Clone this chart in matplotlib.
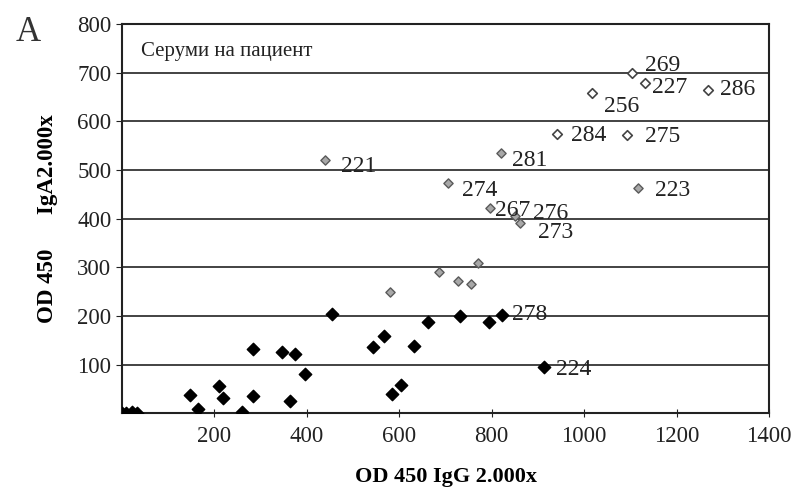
import numpy as np
import matplotlib
matplotlib.use('Agg')
import matplotlib.pyplot as plt

plt.rcParams['font.family'] = ['Liberation Serif', 'DejaVu Serif']

# black points (no labels)
blk_x = [0, 8, 22, 32, 147, 164, 210, 218, 260, 284, 284, 346, 374, 364, 396, 454,
         543, 567, 584, 604, 632, 662, 732, 794]
blk_y = [0, 0, 2, 0, 37, 8, 56, 31, 2, 132, 35, 125, 121, 25, 80, 204,
         136, 158, 39, 58, 138, 187, 200, 187]
# labelled black points
blk_lab = ['278', '224']
blk_lx = [822, 913]
blk_ly = [202, 95]

# grey filled points
gry_x = [580, 686, 727, 755, 771]
gry_y = [249, 290, 272, 265, 309]
gry_lab = ['221', '274', '281', '267', '276', '273', '223']
gry_lx = [439, 706, 820, 797, 850, 861, 1117]
gry_ly = [520, 473, 535, 421, 405, 391, 463]

# open points
opn_lab = ['269', '227', '286', '256', '284', '275']
opn_x = [1104, 1132, 1268, 1017, 942, 1093]
opn_y = [700, 679, 665, 658, 574, 572]

# label offsets (pixels)
offs = {'278': (10, 0), '224': (12, -3), '221': (16, -6), '274': (14, -7),
        '281': (11, -7), '267': (5, -2), '276': (18, 3), '273': (18, -9),
        '223': (17, -2), '269': (13, 7), '227': (7, -5), '286': (12, 0),
        '256': (12, -13), '284': (14, -1), '275': (18, -1)}

fig = plt.figure(figsize=(8.02, 4.93), dpi=100)
ax = fig.add_axes([0.152, 0.162, 0.807, 0.789])

for y in range(100, 800, 100):
    ax.axhline(y, color='#222222', lw=1.2, zorder=1)

ax.scatter(blk_x + blk_lx, blk_y + blk_ly, marker='D', s=40, color='black', zorder=3)
ax.scatter(gry_x + gry_lx, gry_y + gry_ly, marker='D', s=22, facecolor='#a8a8a8',
           edgecolor='#5a5a5a', lw=1, zorder=3)
ax.scatter(opn_x, opn_y, marker='D', s=24, facecolor='white', edgecolor='#444444',
           lw=1.2, zorder=3)

for labs, xs, ys in [(blk_lab, blk_lx, blk_ly), (gry_lab, gry_lx, gry_ly),
                     (opn_lab, opn_x, opn_y)]:
    for t, x, y in zip(labs, xs, ys):
        ax.annotate(t, (x, y), xytext=offs[t], textcoords='offset pixels',
                    ha='left', va='center', fontsize=17, color='#222222', zorder=4)

ax.set_xlim(0, 1400)
ax.set_ylim(0, 800)
ax.set_xticks(range(200, 1401, 200))
ax.set_yticks(range(100, 801, 100))
ax.tick_params(axis='both', labelsize=16.5, colors='#222222', length=4)
ax.tick_params(axis='x', direction='inout', length=6, pad=6)
for s in ax.spines.values():
    s.set_color('#222222')
    s.set_linewidth(1.5)

ax.set_xlabel('OD 450 IgG 2.000x', fontsize=16, fontweight='bold', labelpad=15)
ax.set_ylabel('OD 450      IgA2.000x', fontsize=16.5, fontweight='bold', labelpad=14)

ax.text(0.03, 0.93, 'Серуми на пациент', transform=ax.transAxes, fontsize=15,
        va='center', ha='left', color='#222222')
fig.text(0.035, 0.935, 'A', fontsize=25, ha='center', va='center', color='#333333')

fig.savefig('out.png', dpi=100)
